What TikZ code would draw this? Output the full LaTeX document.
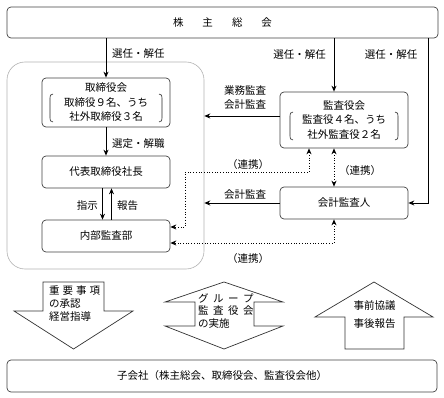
\documentclass[tikz,border=0pt]{standalone}
\usepackage{fontspec}
\setmainfont{Noto Sans CJK JP}
\usetikzlibrary{arrows.meta}
\newcommand\myfs{\fontsize{10.5pt}{14.5pt}\selectfont}
\tikzset{
  box/.style={draw=black!75, rounded corners=4pt, line width=0.7pt, minimum width=128pt, inner sep=0pt, align=center, font=\myfs},
  grpbox/.style={draw=black!30, rounded corners=18pt, line width=0.6pt, inner sep=0pt},
  lbl/.style={font=\myfs, inner sep=0pt, align=center},
  arr/.style={line width=0.9pt, -{Stealth[length=6pt,width=5pt]}},
  dotarr/.style={line width=0.7pt, dotted, {Stealth[length=6pt,width=5pt]}-{Stealth[length=6pt,width=5pt]}},
  bigarrow/.style={draw=black!80, line width=0.7pt, fill=white},
  brk/.style={line width=0.6pt, draw=black!85},
}
\begin{document}
\begin{tikzpicture}[x=1pt,y=-1pt]
\useasboundingbox (0,0) rectangle (444,398);
% containers and boxes
\node[grpbox, minimum width=197pt, minimum height=207pt] (grp) at (105.5,165.5) {};
\node[box, minimum width=431pt, minimum height=31pt] (top) at (222.5,22.5) {株\hspace{19pt}主\hspace{19pt}総\hspace{19pt}会};
\node[box, minimum height=49pt] (tori) at (106,102.5) {取締役会\\取締役９名、うち\\社外取締役３名};
\node[box, minimum height=32pt] (daihyo) at (106,172) {代表取締役社長};
\node[box, minimum height=32pt] (naibu) at (106,236) {内部監査部};
\node[box, minimum height=56pt] (kansa) at (344,120) {監査役会\\監査役４名、うち\\社外監査役２名};
\node[box, minimum height=32pt] (kaikei) at (344,203) {会計監査人};
\node[box, minimum width=430pt, minimum height=32pt] (ko) at (222,376) {子会社（株主総会、取締役会、監査役会他）};
% brackets
\draw[brk] (53,94) .. controls (50,95) .. (50,98) -- (50,118) .. controls (50,121) .. (53,122);
\draw[brk] (159,94) .. controls (162,95) .. (162,98) -- (162,118) .. controls (162,121) .. (159,122);
\draw[brk] (293,112) .. controls (290,113) .. (290,116) -- (290,136) .. controls (290,139) .. (293,140);
\draw[brk] (395,112) .. controls (398,113) .. (398,116) -- (398,136) .. controls (398,139) .. (395,140);
% coordinates
\coordinate (kx) at (334,0);
\coordinate (rx) at (428,0);
\coordinate (c1) at (309,172);
\coordinate (c2) at (185,172);
\coordinate (c3) at (185,227);
\coordinate (c4) at (334,243);
% solid connectors
\draw[arr] (top.south -| tori.north) -- (tori.north);
\draw[arr] (tori.south) -- (daihyo.north);
\draw[arr] ([xshift=-3.5pt]daihyo.south) -- ([xshift=-3.5pt]naibu.north);
\draw[arr] ([xshift=5.5pt]naibu.north) -- ([xshift=5.5pt]daihyo.south);
\draw[arr] (top.south -| kx) -- (kansa.north -| kx);
\draw[arr] (top.south -| rx) |- (kaikei.east);
\draw[arr] ([yshift=4pt]kansa.west) -- ([yshift=4pt]kansa.west -| grp.east);
\draw[arr] (kaikei.west) -- (kaikei.west -| grp.east);
% dotted connectors
\draw[dotarr] (kansa.south -| c1) -- (c1) -- (c2) -- (c3) -- (c3 -| naibu.east);
\draw[dotarr] (kansa.south -| kx) -- (kaikei.north -| kx);
\draw[dotarr] (kaikei.south -| c4) -- (c4) -- (c4 -| naibu.east);
% labels
\node[lbl, anchor=west] (l1) at (112,54) {選任・解任};
\node[lbl, anchor=east] (l2) at (326,55) {選任・解任};
\node[lbl] (l3) at (391,55) {選任・解任};
\node[lbl, anchor=west] (l4) at (112,144) {選定・解職};
\node[lbl, anchor=east] (l5) at (98,206) {指示};
\node[lbl, anchor=west] (l6) at (117,206) {報告};
\node[lbl] (l7) at (245,97.5) {業務監査\\会計監査};
\node[lbl] (l8) at (245,195) {会計監査};
\node[lbl] (l9) at (248,165) {（連携）};
\node[lbl] (l10) at (360,171) {（連携）};
\node[lbl] (l11) at (248,259) {（連携）};
% big arrows
\draw[bigarrow] (43,282) -- (104,282) -- (104,311) -- (133,311) -- (73.5,349) -- (14,311) -- (43,311) -- cycle;
\draw[bigarrow] (224,282) -- (283,302) -- (254,302) -- (254,326) -- (283,326) -- (224,349) -- (165,326) -- (195,326) -- (195,302) -- (165,302) -- cycle;
\draw[bigarrow] (374,282) -- (433,317) -- (404,317) -- (404,349) -- (345,349) -- (345,317) -- (315,317) -- cycle;
% big arrow texts
\node[lbl, anchor=west] (t1) at (49,291) {重\hspace{3pt}要\hspace{3pt}事\hspace{3pt}項};
\node[lbl, anchor=west] (t2) at (49,304) {の承認};
\node[lbl, anchor=west] (t3) at (49,317) {経営指導};
\node[lbl, anchor=west] (t4) at (198,298) {グ\hspace{4.5pt}ル\hspace{4.5pt}ー\hspace{4.5pt}プ};
\node[lbl, anchor=west] (t5) at (198,311) {監\hspace{4.5pt}査\hspace{4.5pt}役\hspace{4.5pt}会};
\node[lbl, anchor=west] (t6) at (198,324) {の実施};
\node[lbl] (t7) at (374.5,306) {事前協議};
\node[lbl] (t8) at (374.5,324) {事後報告};
\end{tikzpicture}
\end{document}
